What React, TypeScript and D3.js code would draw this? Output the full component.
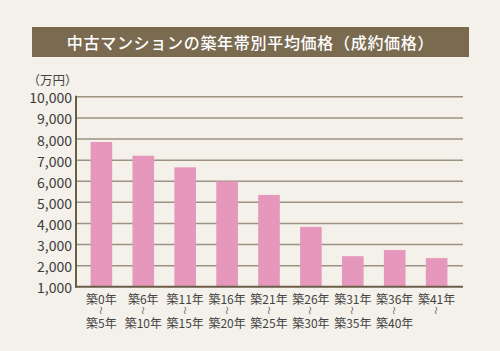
import React from "react";
import * as d3 from "d3";

const categoriesTop = ["築0年", "築6年", "築11年", "築16年", "築21年", "築26年", "築31年", "築36年", "築41年"];
const categoriesBottom = ["築5年", "築10年", "築15年", "築20年", "築25年", "築30年", "築35年", "築40年", ""];
const prices = [7860, 7210, 6660, 5990, 5350, 3840, 2450, 2740, 2360];
const yTicks = [1000, 2000, 3000, 4000, 5000, 6000, 7000, 8000, 9000, 10000];
const title = "中古マンションの築年帯別平均価格（成約価格）";
const unitLabel = "（万円）";

const W = 500;
const H = 351;
const FONT = "'Noto Sans CJK JP', 'Noto Sans', sans-serif";

export default function App() {
  const x = d3
    .scaleBand<number>()
    .domain(d3.range(prices.length))
    .range([75.5, 462.5])
    .paddingInner(0.484)
    .paddingOuter(0.36);
  const y = d3.scaleLinear().domain([1000, 10000]).range([286.8, 96.8]);
  const fmt = d3.format(",");
  const axisX0 = 76;
  const axisX1 = 463;

  return (
    <div style={{ position: "fixed", left: 0, top: 0 }}>
      <svg width={W} height={H} style={{ display: "block", background: "#f4f1eb" }}>
        <rect x={0} y={0} width={W} height={H} fill="#f4f1eb" />
        <rect x={32} y={27} width={437} height={30} fill="#7a6a50" />
        <text
          x={250.5}
          y={42}
          fill="#ffffff"
          fontFamily={FONT}
          fontSize={16}
          letterSpacing={0.7}
          textAnchor="middle"
          dominantBaseline="central"
          fontWeight={500}
        >
          {title}
        </text>
        <text x={52.5} y={79} fill="#444" fontFamily={FONT} fontSize={12.5} textAnchor="middle" dominantBaseline="central">
          {unitLabel}
        </text>
        {yTicks.map((t) => (
          <g key={t}>
            {t > 1000 && (
              <line x1={axisX0} x2={axisX1} y1={y(t)} y2={y(t)} stroke="#9d9282" strokeWidth={1.5} />
            )}
            <text
              x={72}
              y={y(t) + 0.5}
              fill="#3c3c3c"
              fontFamily={FONT}
              fontSize={14}
              textAnchor="end"
              dominantBaseline="central"
            >
              {fmt(t)}
            </text>
          </g>
        ))}
        {prices.map((v, i) => (
          <rect
            key={i}
            x={x(i)}
            y={y(v)}
            width={x.bandwidth()}
            height={y(1000) - y(v)}
            fill="#e598bb"
          />
        ))}
        <line x1={axisX0} x2={axisX0} y1={y(10000) - 1} y2={y(1000) + 1} stroke="#6b5c48" strokeWidth={2} />
        <line x1={axisX0 - 1} x2={axisX1} y1={y(1000)} y2={y(1000)} stroke="#6b5c48" strokeWidth={2} />
        {categoriesTop.map((c, i) => {
          const cx = (x(i) as number) + x.bandwidth() / 2;
          return (
            <g key={c} fontFamily={FONT} fill="#444">
              <text x={cx} y={298} fontSize={12} textAnchor="middle" dominantBaseline="central">
                {c}
              </text>
              <text
                x={0}
                y={0}
                fontSize={8}
                textAnchor="middle"
                dominantBaseline="central"
                transform={`translate(${cx},${310.5}) rotate(90)`}
              >
                〜
              </text>
              {categoriesBottom[i] && (
                <text x={cx} y={322} fontSize={12} textAnchor="middle" dominantBaseline="central">
                  {categoriesBottom[i]}
                </text>
              )}
            </g>
          );
        })}
      </svg>
    </div>
  );
}
